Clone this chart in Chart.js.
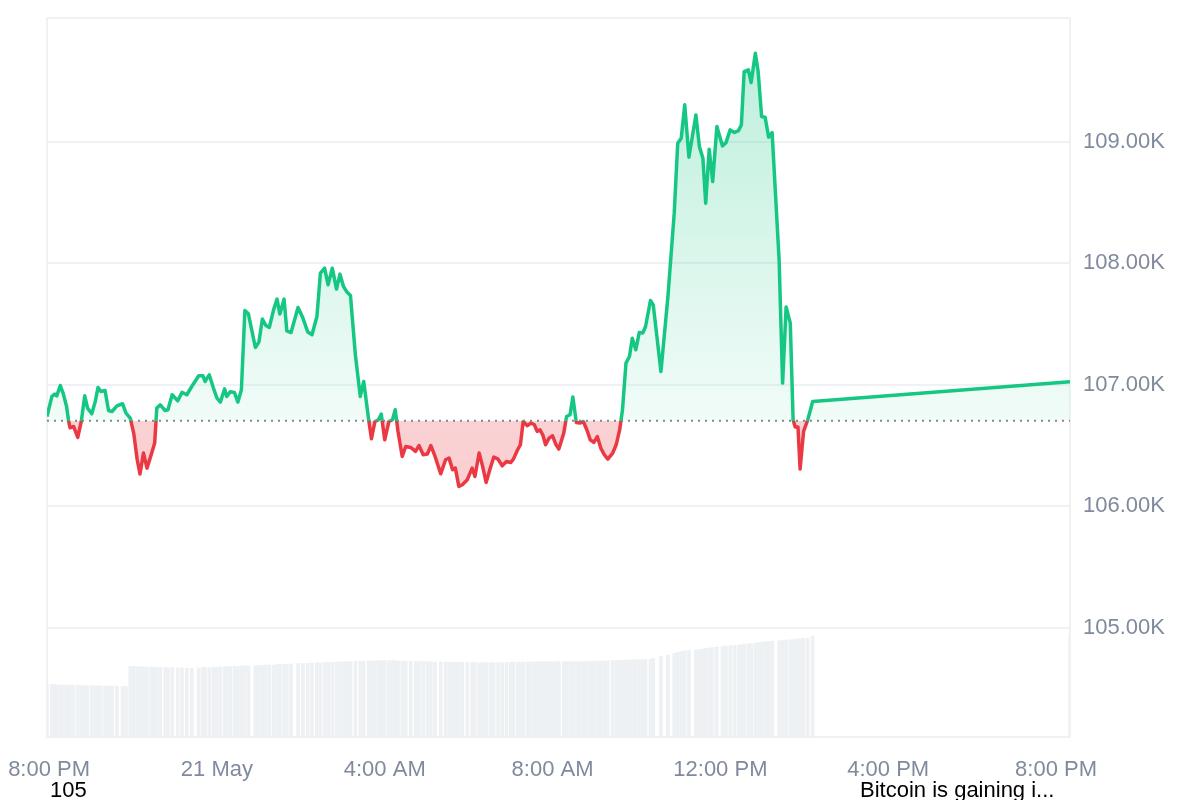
<!DOCTYPE html>
<html>
<head>
<meta charset="utf-8">
<script src="https://cdn.jsdelivr.net/npm/chart.js@4.4.1/dist/chart.umd.min.js"></script>
<style>
    body { margin: 0; background: #ffffff; font-family: 'Liberation Sans', Arial, sans-serif; }
    #wrap { position: relative; width: 1200px; height: 800px; overflow: hidden; }
    .note { position: absolute; top: 777px; font-size: 22px; line-height: 25px; color: #000000; white-space: nowrap; }
</style>
</head>
<body>
<div id="wrap">
    <canvas id="priceChart" width="1200" height="800"></canvas>
    <div class="note" style="left: 50px;">105</div>
    <div class="note" style="left: 860px;">Bitcoin is gaining i...</div>
</div>
<script>
// minutes after 8:00 PM (20 May)
const minutes = [
    -3, 4, 8, 11, 16, 20, 25, 28, 30, 35,
    41, 46, 51, 55, 61, 66, 70, 74, 80, 85,
    90, 97, 105, 110, 116, 121, 126, 130, 135, 140,
    146, 151, 154, 159, 166, 170, 176, 184, 190, 197,
    204, 214, 220, 223, 229, 235, 240, 245, 251, 254,
    259, 265, 270, 275, 280, 285, 295, 300, 305, 310,
    315, 321, 326, 330, 336, 340, 346, 356, 363, 370,
    376, 383, 388, 394, 399, 405, 411, 416, 421, 426,
    431, 438, 445, 450, 457, 461, 466, 471, 475, 480,
    486, 491, 495, 499, 505, 510, 517, 524, 529, 535,
    541, 546, 552, 560, 567, 572, 577, 581, 586, 591,
    598, 605, 609, 615, 620, 625, 631, 636, 642, 648,
    654, 660, 664, 670, 674, 678, 684, 689, 694, 698,
    702, 706, 710, 715, 720, 725, 729, 736, 740, 745,
    749, 754, 759, 764, 769, 774, 779, 784, 789, 794,
    799, 806, 811, 816, 820, 825, 830, 834, 839, 844,
    849, 853, 860, 864, 875, 885, 894, 899, 904, 909,
    915, 925, 930, 935, 939, 944, 949, 955, 963, 968,
    974, 980, 986, 990, 994, 1000, 1004, 1010, 1014, 1019,
    1024, 1029, 1034, 1044, 1049, 1054, 1060, 1064, 1067, 1071,
    1074, 1079, 1085, 1092, 1460
];

// BTC price (USD)
const prices = [
    106739, 106904, 106923, 106909, 106994, 106932, 106821, 106698, 106646, 106657,
    106566, 106698, 106909, 106808, 106761, 106863, 106978, 106945, 106953, 106788,
    106780, 106827, 106844, 106767, 106726, 106602, 106383, 106265, 106438, 106314,
    106424, 106520, 106808, 106835, 106788, 106794, 106918, 106868, 106937, 106918,
    106986, 107074, 107074, 107027, 107082, 106973, 106891, 106858, 106967, 106904,
    106942, 106937, 106858, 106959, 107612, 107584, 107307, 107351, 107541, 107488,
    107472, 107617, 107705, 107582, 107705, 107444, 107430, 107636, 107549, 107434,
    107412, 107562, 107919, 107960, 107823, 107960, 107788, 107911, 107809, 107763,
    107735, 107247, 106904, 107027, 106712, 106556, 106698, 106712, 106759, 106547,
    106698, 106712, 106794, 106616, 106410, 106492, 106484, 106451, 106500, 106424,
    106430, 106500, 106410, 106267, 106383, 106397, 106300, 106314, 106163, 106177,
    106218, 106314, 106245, 106438, 106328, 106196, 106314, 106405, 106388, 106333,
    106369, 106360, 106388, 106465, 106506, 106698, 106663, 106685, 106671, 106616,
    106630, 106588, 106506, 106561, 106580, 106506, 106471, 106602, 106739, 106753,
    106899, 106690, 106685, 106698, 106630, 106547, 106525, 106574, 106479, 106424,
    106388, 106438, 106506, 106630, 106794, 107179, 107233, 107384, 107288, 107430,
    107426, 107480, 107694, 107658, 107109, 107727, 108413, 108989, 109030, 109305,
    108874, 109222, 108961, 108866, 108495, 108940, 108673, 109126, 108967, 108994,
    109099, 109077, 109093, 109140, 109579, 109593, 109488, 109730, 109579, 109208,
    109203, 109039, 109077, 108029, 107014, 107640, 107508, 106712, 106652, 106652,
    106306, 106616, 106712, 106863, 107025
];

// volume (billions USD)
const volumes = [
    26.3, 26.4, 26.2, 26.1, 26.0, 26.1, 25.9, 25.9, 25.8, 25.9,
    25.8, 25.7, 25.8, 25.6, 25.7, 25.6, 25.5, 25.6, 25.5, 25.4,
    25.5, 25.4, 25.3, 25.3, 35.3, 35.4, 35.2, 35.2, 35.1, 35.0,
    35.0, 34.9, 34.8, 34.9, 34.7, 34.6, 34.7, 34.5, 34.6, 34.5,
    34.4, 34.5, 34.6, 34.8, 34.7, 34.9, 35.0, 35.1, 35.0, 35.2,
    35.3, 35.4, 35.3, 35.5, 35.6, 35.5, 35.7, 35.8, 35.9, 36.0,
    36.1, 36.0, 36.2, 36.3, 36.4, 36.4, 36.6, 36.7, 36.8, 36.9,
    37.0, 37.2, 37.1, 37.3, 37.4, 37.3, 37.5, 37.6, 37.5, 37.7,
    37.7, 37.8, 37.9, 37.8, 38.0, 38.1, 38.0, 38.2, 38.1, 38.2,
    38.2, 38.3, 38.1, 38.0, 38.1, 37.9, 37.8, 37.9, 37.8, 37.7,
    37.7, 37.6, 37.5, 37.6, 37.5, 37.4, 37.4, 37.3, 37.4, 37.3,
    37.2, 37.3, 37.2, 37.1, 37.2, 37.2, 37.1, 37.2, 37.2, 37.3,
    37.3, 37.4, 37.3, 37.5, 37.4, 37.5, 37.6, 37.5, 37.6, 37.6,
    37.7, 37.6, 37.7, 37.7, 37.6, 37.7, 37.8, 37.7, 37.8, 37.7,
    37.7, 37.8, 37.7, 37.7, 37.8, 37.8, 37.9, 38.0, 38.0, 38.1,
    38.1, 38.2, 38.3, 38.3, 38.4, 38.5, 38.5, 38.6, 38.7, 38.7,
    38.8, 38.8, 38.9, 39.3, 40.2, 41.0, 41.8, 42.3, 42.8, 43.1,
    43.3, 43.5, 43.8, 44.0, 44.3, 44.5, 44.8, 45.0, 45.2, 45.5,
    45.7, 45.8, 46.0, 46.2, 46.4, 46.6, 46.8, 47.0, 47.2, 47.4,
    47.6, 47.7, 47.9, 48.1, 48.3, 48.5, 48.6, 48.8, 48.9, 49.1,
    49.2, 49.4, 49.5, 50.5, 50.2
];

// reference price (24h ago) shown as dotted line
const baseline = 106704;

// x axis ticks
const tickMinutes = [0, 240, 480, 720, 960, 1200, 1440];
const tickLabels = ['8:00 PM', '21 May', '4:00 AM', '8:00 AM', '12:00 PM', '4:00 PM', '8:00 PM'];

// y axis ticks
const priceTicks = [105000, 106000, 107000, 108000, 109000];

const GREEN = '#16c784';
const RED = '#ea3943';
const GRID = '#eff2f5';
const LABEL = '#808a9d';
const FONT = "'Liberation Sans', Arial, sans-serif";

// green above the baseline, red below it
function splitColor(context, above, below, aboveTop, belowBottom) {
    const chart = context.chart;
    const area = chart.chartArea;
    if (!area) return above;
    const yBase = chart.scales.y.getPixelForValue(baseline);
    const g = chart.ctx.createLinearGradient(0, area.top, 0, area.bottom);
    let s = (yBase - area.top) / (area.bottom - area.top);
    s = Math.min(Math.max(s, 0), 1);
    g.addColorStop(0, aboveTop);
    g.addColorStop(s, above);
    g.addColorStop(s, below);
    g.addColorStop(1, belowBottom);
    return g;
}

// keep the plot frame fixed: no extra room for edge labels
function noEdgePadding(axis) {
    axis.paddingLeft = 0;
    axis.paddingRight = 0;
    axis.paddingTop = 0;
    axis.paddingBottom = 0;
}

const pricePoints = minutes.map(function(m, i) { return { x: m, y: prices[i] }; });
const volumePoints = minutes.map(function(m, i) { return { x: m, y: volumes[i] }; });
const firstMin = minutes[0];
const lastMin = minutes[minutes.length - 1];

const ctx = document.getElementById('priceChart');
new Chart(ctx, {
    type: 'line',
    data: {
        datasets: [
            {
                label: 'Price',
                data: pricePoints,
                yAxisID: 'y',
                order: 0,
                borderWidth: 3.5,
                tension: 0,
                pointRadius: 0,
                borderJoinStyle: 'round',
                borderColor: function(c) { return splitColor(c, GREEN, RED, GREEN, RED); },
                backgroundColor: function(c) {
                    return splitColor(c, 'rgba(22,199,132,0.06)', 'rgba(234,57,67,0.23)',
                        'rgba(22,199,132,0.30)', 'rgba(234,57,67,0.28)');
                },
                fill: { target: { value: baseline } }
            },
            {
                label: 'Baseline',
                data: [{ x: firstMin, y: baseline }, { x: lastMin, y: baseline }],
                yAxisID: 'y',
                order: 1,
                borderColor: '#7f8898',
                borderWidth: 2,
                borderDash: [2, 5],
                pointRadius: 0,
                fill: false
            },
            {
                type: 'bar',
                label: 'Volume',
                data: volumePoints,
                yAxisID: 'yv',
                order: 2,
                backgroundColor: '#eef1f4',
                barThickness: 3
            }
        ]
    },
    options: {
        responsive: false,
        animation: false,
        layout: { padding: { left: 47, top: 18, right: 0, bottom: 0 } },
        plugins: {
            legend: { display: false },
            tooltip: { enabled: false }
        },
        scales: {
            x: {
                type: 'linear',
                offset: false,
                min: firstMin,
                max: lastMin,
                grid: { display: false, drawTicks: false, offset: false },
                border: { display: true, color: GRID, width: 2 },
                afterBuildTicks: function(axis) {
                    axis.ticks = tickMinutes.map(function(v) { return { value: v }; });
                },
                afterFit: function(axis) { axis.height = 63; noEdgePadding(axis); },
                ticks: {
                    autoSkip: false,
                    maxRotation: 0,
                    padding: 20,
                    color: LABEL,
                    font: { family: FONT, size: 22 },
                    callback: function(value) {
                        const i = tickMinutes.indexOf(value);
                        return i >= 0 ? tickLabels[i] : '';
                    }
                }
            },
            xTop: {
                type: 'linear',
                position: 'top',
                offset: false,
                grid: { display: false, drawTicks: false },
                border: { display: true, color: GRID, width: 2 },
                ticks: { display: false },
                afterFit: function(axis) { axis.height = 0; noEdgePadding(axis); }
            },
            y: {
                position: 'right',
                min: 104100,
                max: 110020,
                grid: { color: GRID, lineWidth: 2, drawTicks: false },
                border: { display: true, color: GRID, width: 2 },
                afterBuildTicks: function(axis) {
                    axis.ticks = priceTicks.map(function(v) { return { value: v }; });
                },
                afterFit: function(axis) { axis.width = 130; noEdgePadding(axis); },
                ticks: {
                    padding: 13,
                    color: LABEL,
                    font: { family: FONT, size: 22 },
                    callback: function(value) { return (value / 1000).toFixed(2) + 'K'; }
                }
            },
            yv: {
                position: 'left',
                min: 0,
                max: 359.5,
                grid: { display: false, drawTicks: false },
                border: { display: true, color: GRID, width: 2 },
                ticks: { display: false },
                afterFit: function(axis) { axis.width = 0; noEdgePadding(axis); }
            }
        }
    }
});
</script>
</body>
</html>
